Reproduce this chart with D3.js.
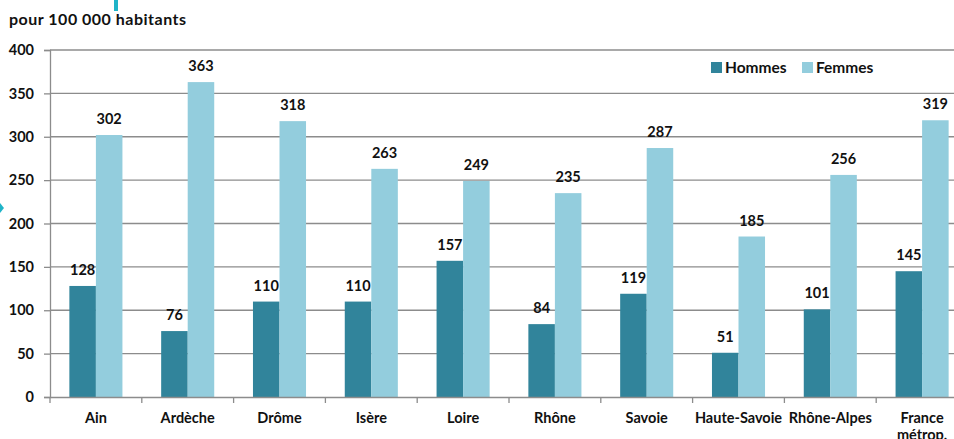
<!DOCTYPE html>
<html>
<head>
<meta charset="utf-8">
<script src="https://cdn.jsdelivr.net/npm/d3@7"></script>
<style>
  html, body { margin: 0; padding: 0; background: #fff; }
  svg { display: block; font-family: Lato, "Open Sans", sans-serif; }
</style>
</head>
<body>
<svg id="chart" width="954" height="439"></svg>
<script>
const categories = ["Ain", "Ardèche", "Drôme", "Isère", "Loire", "Rhône", "Savoie", "Haute-Savoie", "Rhône-Alpes", "France métrop."];
const hommes = [128, 76, 110, 110, 157, 84, 119, 51, 101, 145];
const femmes = [302, 363, 318, 263, 249, 235, 287, 185, 256, 319];
const seriesNames = ["Hommes", "Femmes"];
const seriesColors = ["#31849B", "#93CDDD"];
const yTicks = [0, 50, 100, 150, 200, 250, 300, 350, 400];
const subtitle = "pour 100 000 habitants";

const svg = d3.select("#chart");
const plotLeft = 50, plotBottom = 397, plotTop = 50, bandW = 91.8;
const ink = "#111";
const gridColor = "#8c8c8c";

const x = d3.scaleBand()
  .domain(categories)
  .range([plotLeft, plotLeft + bandW * categories.length])
  .paddingInner(0).paddingOuter(0);

const x1 = d3.scaleBand()
  .domain(seriesNames)
  .range([0, x.bandwidth()])
  .paddingInner(0)
  .paddingOuter(0.73);

const y = d3.scaleLinear().domain([0, 400]).range([plotBottom, plotTop]);

// small accent marks at the edges
svg.append("rect").attr("x", 114).attr("y", 0).attr("width", 4).attr("height", 11).attr("fill", "#1fb4c8");
svg.append("path").attr("d", "M0,203 L4,208 L0,213 Z").attr("fill", "#1fb4c8");

// subtitle
svg.append("text").attr("x", 9).attr("y", 25)
  .attr("font-size", 16).attr("font-weight", "bold").attr("fill", ink)
  .attr("letter-spacing", 0.5)
  .text(subtitle);

// horizontal gridlines
svg.append("g").selectAll("line").data(yTicks.filter(d => d > 0)).join("line")
  .attr("x1", plotLeft).attr("x2", 954)
  .attr("y1", d => y(d)).attr("y2", d => y(d))
  .attr("stroke", gridColor).attr("stroke-width", 1.3);

// y axis
const yAxis = d3.axisLeft(y).tickValues(yTicks).tickSize(6).tickPadding(10);
const gy = svg.append("g").attr("transform", `translate(${plotLeft},0)`).call(yAxis);
gy.select(".domain").attr("stroke", gridColor).attr("stroke-width", 1.3);
gy.selectAll(".tick line").attr("stroke", gridColor).attr("stroke-width", 1.3);
gy.selectAll(".tick text").attr("font-size", 14.5).attr("font-weight", "bold")
  .attr("fill", ink).attr("font-family", "Lato, sans-serif");

// bars with value labels
const groups = svg.append("g").selectAll("g").data(categories).join("g")
  .attr("transform", d => `translate(${x(d)},0)`);

groups.each(function(cat, i) {
  const g = d3.select(this);
  const vals = [hommes[i], femmes[i]];
  vals.forEach((v, s) => {
    g.append("rect")
      .attr("x", x1(seriesNames[s]))
      .attr("y", y(v))
      .attr("width", x1.bandwidth())
      .attr("height", plotBottom - y(v))
      .attr("fill", seriesColors[s]);
    g.append("text")
      .attr("x", x1(seriesNames[s]) + x1.bandwidth() / 2)
      .attr("y", y(v) - 11)
      .attr("text-anchor", "middle")
      .attr("font-size", 14.5).attr("font-weight", "bold").attr("fill", ink)
      .text(v);
  });
});

// x axis
const xAxis = d3.axisBottom(x).tickSize(0).tickFormat("");
const gx = svg.append("g").attr("transform", `translate(0,${plotBottom})`).call(xAxis);
gx.select(".domain").attr("stroke", gridColor).attr("stroke-width", 1.3);
// boundary ticks between categories
const bounds = d3.range(categories.length + 1).map(i => plotLeft + i * bandW);
gx.selectAll("line.bound").data(bounds).join("line").attr("class", "bound")
  .attr("x1", d => d).attr("x2", d => d).attr("y1", 0).attr("y2", 6)
  .attr("stroke", gridColor).attr("stroke-width", 1.3);

// category labels ("France métrop." wraps onto two lines)
const labels = svg.append("g").selectAll("text").data(categories).join("text")
  .attr("x", d => x(d) + x.bandwidth() / 2)
  .attr("y", 423)
  .attr("text-anchor", "middle")
  .attr("font-size", 14.5).attr("font-weight", "bold").attr("fill", ink);
labels.each(function(d) {
  const t = d3.select(this);
  const parts = d === "France métrop." ? ["France", "métrop."] : [d];
  parts.forEach((p, k) => {
    t.append("tspan").attr("x", x(d) + x.bandwidth() / 2).attr("dy", k === 0 ? 0 : 17).text(p);
  });
});

// legend
const legend = svg.append("g");
const legendX = [711, 802];
seriesNames.forEach((name, s) => {
  legend.append("rect").attr("x", legendX[s]).attr("y", 62)
    .attr("width", 11).attr("height", 11).attr("fill", seriesColors[s]);
  legend.append("text").attr("x", legendX[s] + 14).attr("y", 73)
    .attr("font-size", 15.5).attr("font-weight", "bold").attr("fill", ink)
    .text(name);
});
</script>
</body>
</html>
